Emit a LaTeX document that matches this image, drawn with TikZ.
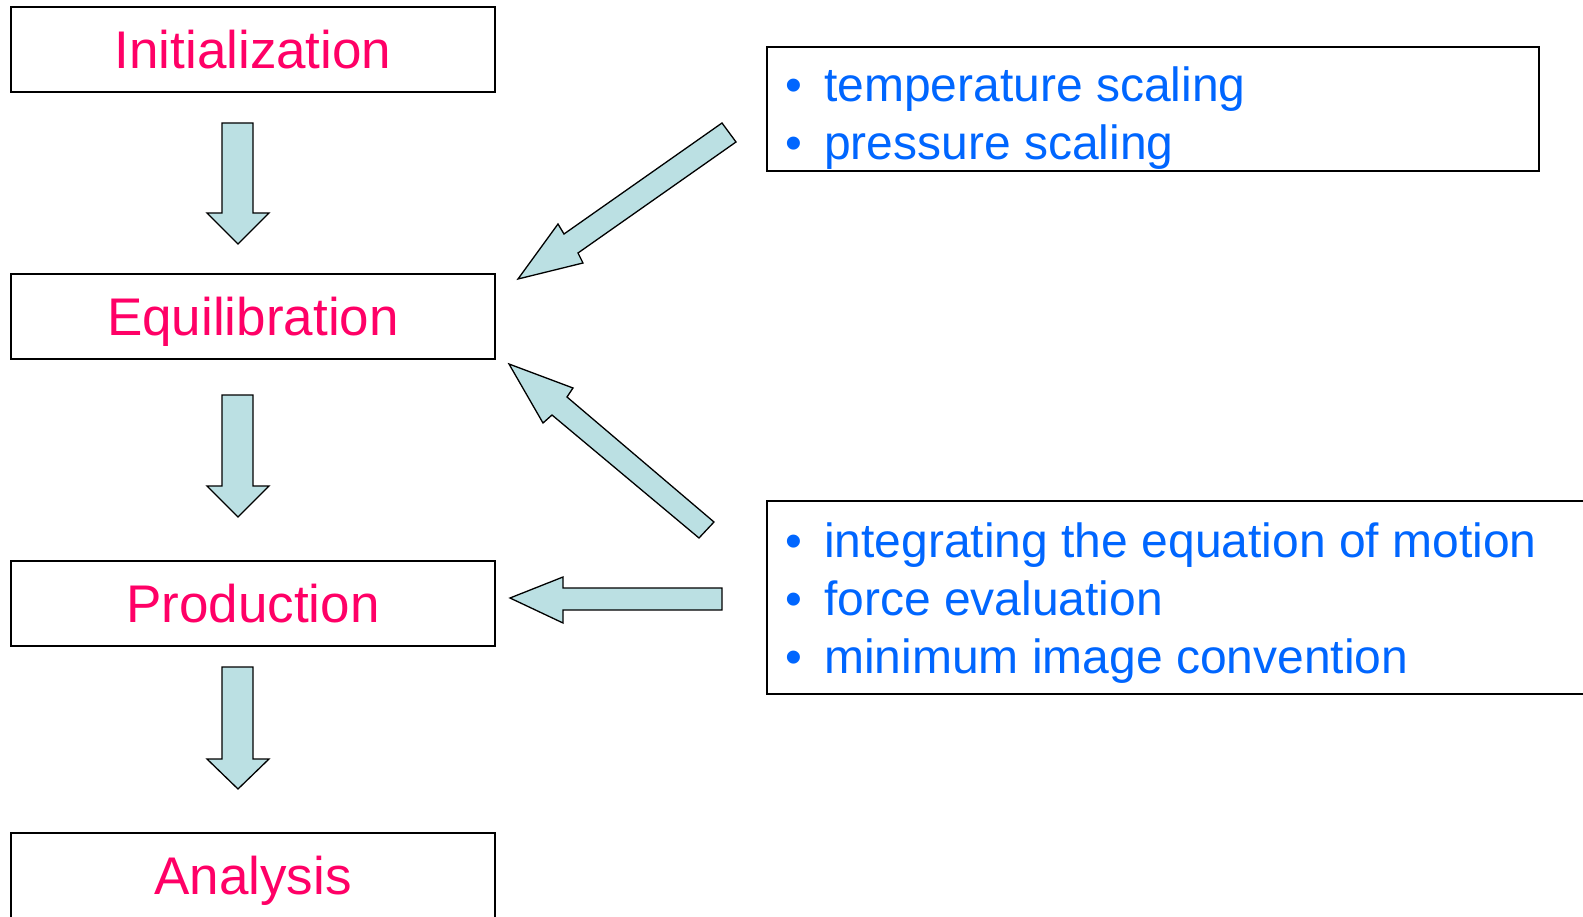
\documentclass[tikz,border=0pt]{standalone}
\usepackage{fontspec}
\setmainfont{Liberation Sans}
\definecolor{stagepink}{RGB}{255,0,102}
\definecolor{itemblue}{RGB}{0,102,255}
\definecolor{arrowfill}{RGB}{187,224,227}
\begin{document}
\begin{tikzpicture}[x=1pt,y=-1pt,
  stagebox/.style={draw=black,line width=1.5pt,rectangle,minimum width=484pt,minimum height=85pt,inner sep=0pt,
    text=stagepink,font=\fontsize{53}{60}\selectfont,text height=38pt,text depth=0pt},
  listbox/.style={draw=black,line width=1.5pt},
  itemline/.style={anchor=base west,inner sep=0pt,text=itemblue,font=\fontsize{48}{58}\selectfont},
  blockarrow/.style={draw=black,line width=1.3pt,fill=arrowfill,line join=miter}]
\useasboundingbox (0,0) rectangle (1583,917);
\clip (0,0) rectangle (1583,917);
% stage boxes
\node[stagebox] (init) at (253,49.5) {Initialization};
\node[stagebox] (equil) at (253,316.5) {Equilibration};
\node[stagebox] (prod) at (253,603.5) {Production};
\node[stagebox] (anal) at (253,875.5) {Analysis};
% list boxes
\draw[listbox] (767,47) rectangle (1539,171);
\draw[listbox] (767,501) rectangle (1600,694);
\newcommand{\bul}{\makebox[38.4pt][l]{•}}
\node[itemline] (t1) at (785.6,102) {\bul temperature scaling};
\node[itemline] (t2) at (785.6,160) {\bul pressure scaling};
\node[itemline] (b1) at (785.6,557) {\bul integrating the equation of motion};
\node[itemline] (b2) at (785.6,615) {\bul force evaluation};
\node[itemline] (b3) at (785.6,673) {\bul minimum image convention};
% vertical block arrows
\foreach \t/\h/\p in {123/213/244, 395/486/517, 667/759/789}{
  \draw[blockarrow] (222,\t) -- (253,\t) -- (253,\h) -- (269,\h) -- (238,\p) -- (207,\h) -- (222,\h) -- cycle;
}
% diagonal arrow from top list box to Equilibration
\draw[blockarrow] (722,123) -- (736,142) -- (578,253) -- (583,263) -- (518,279) -- (558,224) -- (564,234) -- cycle;
% diagonal arrow from bottom list box to Equilibration
\draw[blockarrow] (714,522) -- (699,538) -- (552,415) -- (543,423) -- (509,364) -- (573,388) -- (567,397) -- cycle;
% horizontal arrow to Production
\draw[blockarrow] (722,588) -- (722,610) -- (563,610) -- (563,623) -- (510,598) -- (563,577) -- (563,588) -- cycle;
\end{tikzpicture}
\end{document}
